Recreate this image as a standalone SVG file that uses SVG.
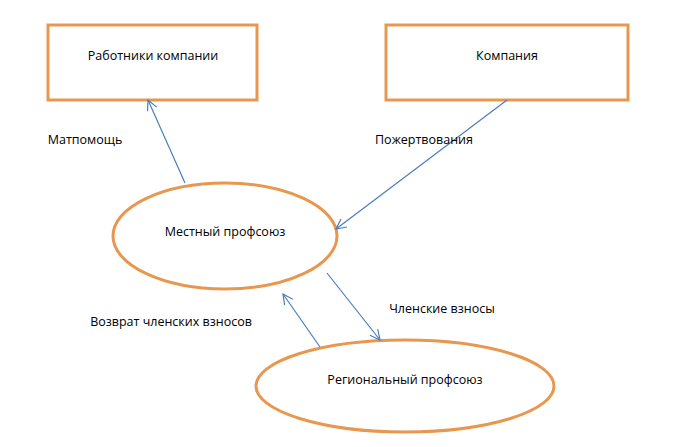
<svg xmlns="http://www.w3.org/2000/svg" width="674" height="447" viewBox="0 0 674 447">
<style>
.n{fill:#fff;stroke:#E8974F;stroke-width:3}
.t{font-family:"Open Sans","Liberation Sans",sans-serif;font-size:12.5px;fill:#000;text-anchor:middle}
.c{stroke:#4A7EBB;stroke-width:1.2;fill:none;marker-end:url(#a)}
</style>
<defs>
<marker id="a" viewBox="0 0 12 12" refX="11" refY="6" markerWidth="12" markerHeight="12" markerUnits="userSpaceOnUse" orient="auto">
<path d="M1,1 L11,6 L1,11" fill="none" stroke="#4A7EBB" stroke-width="1.2"/>
</marker>
</defs>
<rect width="674" height="447" fill="#fff"/>
<g id="workers"><rect class="n" x="48" y="25" width="209" height="75"/><text class="t" x="153" y="60">Работники компании</text></g>
<g id="company"><rect class="n" x="386" y="25" width="242" height="75"/><text class="t" x="507" y="60">Компания</text></g>
<g id="local"><ellipse class="n" cx="225" cy="236" rx="112" ry="53"/><text class="t" x="225" y="236">Местный профсоюз</text></g>
<g id="regional"><ellipse class="n" cx="405" cy="386" rx="149" ry="46"/><text class="t" x="405" y="384">Региональный профсоюз</text></g>
<g id="connectors">
<line class="c" x1="185" y1="183" x2="148" y2="100"/>
<line class="c" x1="507" y1="100" x2="336" y2="229"/>
<line class="c" x1="327" y1="273" x2="380" y2="340"/>
<line class="c" x1="320" y1="347" x2="283" y2="294"/>
</g>
<g id="labels">
<text class="t" x="85" y="144">Матпомощь</text>
<text class="t" x="424" y="144">Пожертвования</text>
<text class="t" x="442" y="313">Членские взносы</text>
<text class="t" x="171" y="326">Возврат членских взносов</text>
</g>
</svg>
